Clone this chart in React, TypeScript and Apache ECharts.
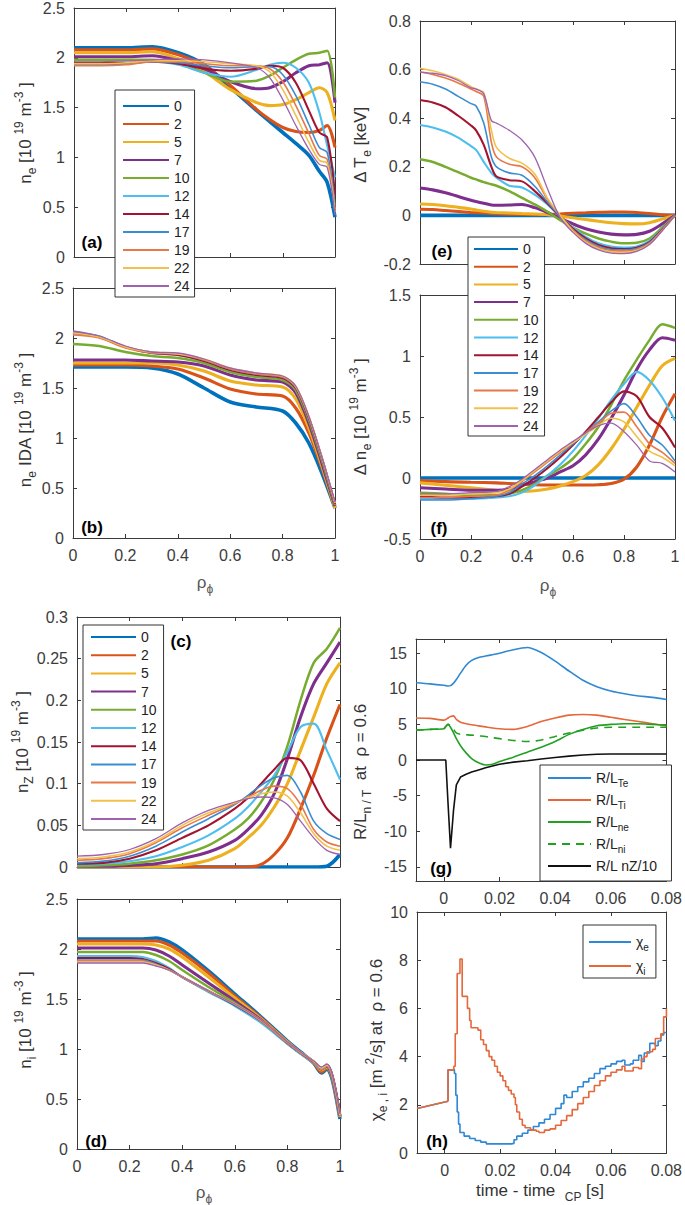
import React, { useEffect, useRef } from "react";
import * as echarts from "echarts";

// ---------- shots (legend) ----------
const SHOTS = ["0", "2", "5", "7", "10", "12", "14", "17", "19", "22", "24"];

// ---------- (a) n_e ----------
const RHO_A = [0, 0.1, 0.2, 0.3, 0.4, 0.5, 0.6, 0.7, 0.75, 0.8, 0.85, 0.9, 0.94, 0.97, 1.0];
const NE_A = [
  [2.10, 2.10, 2.10, 2.11, 2.05, 1.93, 1.70, 1.47, 1.36, 1.25, 1.14, 1.02, 0.86, 0.75, 0.40],
  [2.08, 2.08, 2.08, 2.09, 2.03, 1.92, 1.72, 1.48, 1.38, 1.30, 1.26, 1.25, 1.27, 1.32, 1.10],
  [2.05, 2.05, 2.05, 2.06, 1.99, 1.86, 1.68, 1.55, 1.52, 1.53, 1.58, 1.65, 1.70, 1.65, 1.37],
  [2.01, 2.01, 2.01, 2.02, 1.97, 1.89, 1.76, 1.69, 1.70, 1.76, 1.85, 1.92, 1.93, 1.95, 1.55],
  [1.98, 1.98, 1.98, 1.98, 1.94, 1.85, 1.76, 1.77, 1.82, 1.90, 1.98, 2.04, 2.05, 2.07, 1.60],
  [1.93, 1.93, 1.94, 1.96, 1.93, 1.85, 1.81, 1.88, 1.93, 1.95, 1.90, 1.75, 1.45, 1.12, 0.80],
  [1.95, 1.95, 1.95, 1.96, 1.94, 1.89, 1.87, 1.89, 1.92, 1.90, 1.75, 1.47, 1.25, 1.20, 0.62],
  [1.93, 1.93, 1.94, 1.96, 1.95, 1.92, 1.90, 1.91, 1.91, 1.83, 1.62, 1.33, 1.10, 1.05, 0.52],
  [1.92, 1.92, 1.93, 1.96, 1.96, 1.94, 1.92, 1.92, 1.89, 1.76, 1.52, 1.24, 1.02, 0.98, 0.48],
  [1.94, 1.94, 1.95, 1.97, 1.97, 1.96, 1.94, 1.92, 1.86, 1.68, 1.42, 1.15, 0.97, 0.94, 0.45],
  [1.96, 1.96, 1.97, 1.98, 1.99, 1.98, 1.95, 1.90, 1.80, 1.58, 1.32, 1.08, 0.93, 0.90, 0.42],
];

// ---------- (b) n_e IDA ----------
const RHO_B = [0, 0.1, 0.2, 0.3, 0.4, 0.5, 0.6, 0.7, 0.8, 0.85, 0.9, 0.95, 1.0];
const NE_IDA = [
  [1.71, 1.71, 1.71, 1.70, 1.64, 1.50, 1.36, 1.31, 1.27, 1.15, 0.95, 0.65, 0.30],
  [1.73, 1.73, 1.73, 1.72, 1.69, 1.60, 1.49, 1.44, 1.42, 1.30, 1.05, 0.70, 0.30],
  [1.75, 1.75, 1.75, 1.75, 1.73, 1.67, 1.57, 1.53, 1.51, 1.39, 1.10, 0.72, 0.30],
  [1.78, 1.78, 1.78, 1.77, 1.76, 1.72, 1.63, 1.58, 1.56, 1.45, 1.15, 0.75, 0.32],
  [1.94, 1.92, 1.86, 1.82, 1.80, 1.75, 1.66, 1.61, 1.58, 1.48, 1.18, 0.78, 0.33],
  [2.05, 2.01, 1.91, 1.85, 1.83, 1.77, 1.68, 1.63, 1.60, 1.50, 1.20, 0.80, 0.34],
  [2.05, 2.01, 1.91, 1.85, 1.83, 1.77, 1.68, 1.63, 1.60, 1.50, 1.20, 0.80, 0.34],
  [2.06, 2.02, 1.91, 1.86, 1.84, 1.78, 1.69, 1.64, 1.61, 1.51, 1.21, 0.80, 0.35],
  [2.03, 2.00, 1.90, 1.85, 1.84, 1.78, 1.69, 1.64, 1.61, 1.51, 1.21, 0.80, 0.35],
  [2.05, 2.01, 1.91, 1.86, 1.84, 1.79, 1.70, 1.65, 1.62, 1.52, 1.22, 0.81, 0.35],
  [2.07, 2.02, 1.92, 1.86, 1.85, 1.79, 1.70, 1.65, 1.62, 1.52, 1.22, 0.81, 0.36],
];

// ---------- (c) n_Z ----------
const RHO_C = [0, 0.1, 0.2, 0.3, 0.4, 0.5, 0.6, 0.65, 0.7, 0.75, 0.8, 0.85, 0.9, 0.95, 1.0];
const NZ = [
  [0, 0, 0, 0, 0, 0, 0, 0, 0, 0, 0, 0, 0, 0.001, 0.015],
  [0, 0, 0, 0, 0, 0, 0, 0, 0.003, 0.015, 0.035, 0.07, 0.11, 0.155, 0.195],
  [0, 0, 0, 0, 0.002, 0.008, 0.022, 0.035, 0.05, 0.072, 0.1, 0.14, 0.18, 0.22, 0.245],
  [0.001, 0.001, 0.002, 0.004, 0.01, 0.018, 0.032, 0.045, 0.062, 0.088, 0.13, 0.18, 0.22, 0.245, 0.27],
  [0.001, 0.002, 0.004, 0.008, 0.015, 0.026, 0.045, 0.058, 0.078, 0.105, 0.145, 0.2, 0.245, 0.262, 0.287],
  [0.003, 0.004, 0.007, 0.013, 0.024, 0.038, 0.058, 0.072, 0.09, 0.11, 0.138, 0.168, 0.172, 0.14, 0.105],
  [0.004, 0.005, 0.01, 0.02, 0.035, 0.05, 0.07, 0.083, 0.1, 0.117, 0.131, 0.128, 0.1, 0.07, 0.055],
  [0.005, 0.007, 0.013, 0.025, 0.042, 0.058, 0.075, 0.086, 0.098, 0.107, 0.11, 0.09, 0.055, 0.04, 0.033],
  [0.008, 0.01, 0.016, 0.029, 0.047, 0.062, 0.076, 0.084, 0.092, 0.097, 0.094, 0.075, 0.045, 0.03, 0.025],
  [0.01, 0.012, 0.018, 0.031, 0.05, 0.065, 0.077, 0.083, 0.088, 0.09, 0.085, 0.065, 0.04, 0.025, 0.02],
  [0.013, 0.015, 0.021, 0.034, 0.053, 0.068, 0.078, 0.082, 0.084, 0.083, 0.075, 0.055, 0.035, 0.02, 0.015],
];

// ---------- (d) n_i ----------
const RHO_D = [0, 0.1, 0.2, 0.25, 0.3, 0.35, 0.4, 0.5, 0.6, 0.7, 0.8, 0.85, 0.9, 0.93, 0.95, 0.97, 1.0];
const NI = [
  [2.10, 2.10, 2.10, 2.10, 2.11, 2.07, 1.99, 1.78, 1.55, 1.32, 1.08, 0.97, 0.86, 0.76, 0.80, 0.70, 0.30],
  [2.08, 2.08, 2.08, 2.08, 2.08, 2.04, 1.96, 1.76, 1.53, 1.31, 1.07, 0.96, 0.86, 0.77, 0.81, 0.72, 0.32],
  [2.05, 2.05, 2.05, 2.05, 2.04, 2.00, 1.92, 1.72, 1.51, 1.30, 1.07, 0.96, 0.87, 0.79, 0.82, 0.72, 0.32],
  [2.01, 2.01, 2.01, 2.01, 1.99, 1.93, 1.84, 1.66, 1.48, 1.29, 1.06, 0.96, 0.87, 0.80, 0.83, 0.73, 0.33],
  [1.97, 1.97, 1.97, 1.97, 1.94, 1.88, 1.79, 1.62, 1.46, 1.28, 1.06, 0.96, 0.87, 0.81, 0.84, 0.74, 0.34],
  [1.93, 1.93, 1.93, 1.92, 1.88, 1.81, 1.72, 1.57, 1.43, 1.26, 1.05, 0.95, 0.86, 0.80, 0.83, 0.73, 0.33],
  [1.91, 1.91, 1.91, 1.90, 1.86, 1.80, 1.72, 1.58, 1.44, 1.28, 1.06, 0.96, 0.87, 0.81, 0.84, 0.74, 0.34],
  [1.89, 1.89, 1.89, 1.89, 1.85, 1.79, 1.72, 1.58, 1.44, 1.28, 1.06, 0.96, 0.87, 0.80, 0.83, 0.73, 0.33],
  [1.88, 1.88, 1.88, 1.88, 1.84, 1.79, 1.72, 1.58, 1.45, 1.28, 1.06, 0.96, 0.87, 0.80, 0.83, 0.73, 0.33],
  [1.87, 1.87, 1.87, 1.87, 1.84, 1.79, 1.72, 1.58, 1.45, 1.29, 1.07, 0.97, 0.88, 0.81, 0.84, 0.74, 0.34],
  [1.86, 1.86, 1.86, 1.86, 1.83, 1.79, 1.72, 1.58, 1.45, 1.29, 1.07, 0.97, 0.88, 0.82, 0.85, 0.75, 0.35],
];

// ---------- (e) delta T_e ----------
const RHO_E = [0, 0.05, 0.1, 0.15, 0.2, 0.22, 0.25, 0.28, 0.3, 0.35, 0.4, 0.45, 0.5, 0.55, 0.6, 0.65, 0.7, 0.75, 0.8, 0.85, 0.9, 0.95, 1.0];
const DTE = [
  [0, 0, 0, 0, 0, 0, 0, 0, 0, 0, 0, 0, 0, 0, 0, 0, 0, 0, 0, 0, 0, 0, 0],
  [0.025, 0.024, 0.02, 0.016, 0.012, 0.011, 0.01, 0.008, 0.007, 0.005, 0.004, 0.003, 0.004, 0.006, 0.009, 0.011, 0.013, 0.014, 0.014, 0.012, 0.008, 0.003, 0],
  [0.047, 0.045, 0.04, 0.033, 0.026, 0.022, 0.017, 0.013, 0.012, 0.01, 0.008, 0.006, 0.003, -0.003, -0.01, -0.017, -0.024, -0.03, -0.034, -0.035, -0.03, -0.015, 0],
  [0.113, 0.105, 0.093, 0.078, 0.062, 0.057, 0.05, 0.043, 0.042, 0.043, 0.045, 0.032, 0.012, -0.012, -0.035, -0.055, -0.068, -0.077, -0.08, -0.078, -0.065, -0.035, 0],
  [0.231, 0.22, 0.2, 0.178, 0.155, 0.148, 0.137, 0.128, 0.122, 0.1, 0.072, 0.045, 0.015, -0.02, -0.05, -0.075, -0.095, -0.108, -0.115, -0.113, -0.095, -0.05, 0],
  [0.372, 0.362, 0.345, 0.32, 0.285, 0.27, 0.22, 0.175, 0.155, 0.122, 0.115, 0.085, 0.045, -0.005, -0.05, -0.088, -0.115, -0.128, -0.132, -0.128, -0.105, -0.055, 0],
  [0.475, 0.465, 0.445, 0.41, 0.37, 0.35, 0.29, 0.2, 0.16, 0.145, 0.14, 0.1, 0.05, -0.005, -0.055, -0.095, -0.122, -0.135, -0.138, -0.133, -0.11, -0.058, 0],
  [0.55, 0.54, 0.52, 0.49, 0.46, 0.45, 0.38, 0.24, 0.2, 0.175, 0.165, 0.12, 0.055, -0.005, -0.06, -0.1, -0.127, -0.14, -0.142, -0.136, -0.112, -0.06, 0],
  [0.59, 0.58, 0.565, 0.545, 0.52, 0.51, 0.49, 0.3, 0.24, 0.21, 0.2, 0.155, 0.065, 0.0, -0.06, -0.105, -0.132, -0.145, -0.147, -0.14, -0.115, -0.06, 0],
  [0.605, 0.595, 0.58, 0.56, 0.53, 0.52, 0.505, 0.35, 0.28, 0.235, 0.215, 0.17, 0.07, 0.0, -0.065, -0.11, -0.137, -0.15, -0.152, -0.145, -0.118, -0.062, 0],
  [0.59, 0.585, 0.575, 0.555, 0.525, 0.52, 0.5, 0.39, 0.38, 0.35, 0.31, 0.24, 0.11, -0.01, -0.07, -0.115, -0.142, -0.155, -0.157, -0.148, -0.12, -0.063, 0],
];

// ---------- (f) delta n_e ----------
const RHO_F = [0, 0.1, 0.2, 0.3, 0.35, 0.4, 0.45, 0.5, 0.55, 0.6, 0.65, 0.7, 0.75, 0.8, 0.85, 0.9, 0.95, 1.0];
const DNE = [
  [0, 0, 0, 0, 0, 0, 0, 0, 0, 0, 0, 0, 0, 0, 0, 0, 0, 0],
  [-0.02, -0.03, -0.035, -0.04, -0.045, -0.05, -0.055, -0.057, -0.057, -0.057, -0.057, -0.055, -0.045, -0.01, 0.09, 0.27, 0.50, 0.69],
  [-0.04, -0.06, -0.08, -0.1, -0.11, -0.11, -0.105, -0.09, -0.065, -0.03, 0.02, 0.11, 0.24, 0.40, 0.58, 0.76, 0.92, 0.98],
  [-0.08, -0.09, -0.1, -0.1, -0.09, -0.06, -0.03, 0.0, 0.05, 0.10, 0.19, 0.32, 0.49, 0.68, 0.89, 1.05, 1.15, 1.13],
  [-0.12, -0.13, -0.14, -0.14, -0.13, -0.1, -0.05, 0.02, 0.08, 0.16, 0.28, 0.42, 0.6, 0.8, 0.97, 1.13, 1.26, 1.23],
  [-0.17, -0.17, -0.17, -0.16, -0.15, -0.12, -0.06, 0.02, 0.11, 0.22, 0.35, 0.49, 0.64, 0.77, 0.87, 0.80, 0.66, 0.47],
  [-0.15, -0.16, -0.16, -0.15, -0.13, -0.07, 0.0, 0.08, 0.17, 0.27, 0.38, 0.5, 0.62, 0.71, 0.67, 0.50, 0.41, 0.25],
  [-0.18, -0.18, -0.17, -0.15, -0.12, -0.05, 0.02, 0.1, 0.19, 0.28, 0.37, 0.46, 0.55, 0.61, 0.50, 0.35, 0.27, 0.14],
  [-0.16, -0.16, -0.15, -0.14, -0.1, -0.03, 0.05, 0.13, 0.21, 0.29, 0.37, 0.45, 0.53, 0.54, 0.42, 0.28, 0.21, 0.12],
  [-0.14, -0.14, -0.13, -0.12, -0.09, -0.02, 0.06, 0.14, 0.22, 0.29, 0.36, 0.43, 0.49, 0.46, 0.34, 0.22, 0.17, 0.1],
  [-0.13, -0.13, -0.12, -0.11, -0.07, -0.01, 0.07, 0.15, 0.23, 0.3, 0.37, 0.43, 0.45, 0.38, 0.27, 0.14, 0.12, 0.05],
];

// ---------- (g) gradients at rho = 0.6 ----------
const T_G = [-0.01, -0.005, 0, 0.0007, 0.0015, 0.0024, 0.0035, 0.0045, 0.006, 0.008, 0.01, 0.0125, 0.015, 0.0175, 0.02, 0.025, 0.03, 0.035, 0.04, 0.045, 0.05, 0.055, 0.06, 0.065, 0.07, 0.075, 0.08];
const RL_TE = [10.85, 10.7, 10.5, 10.45, 10.4, 10.45, 10.8, 11.3, 12.2, 13.3, 14.0, 14.4, 14.6, 14.8, 15.0, 15.5, 15.8, 15.1, 13.9, 12.5, 11.2, 10.3, 9.7, 9.3, 9.0, 8.8, 8.5];
const RL_TI = [5.9, 5.85, 5.6, 5.7, 5.9, 6.1, 6.2, 5.7, 5.3, 5.1, 4.95, 4.8, 4.65, 4.5, 4.4, 4.3, 4.7, 5.4, 5.9, 6.3, 6.4, 6.3, 6.0, 5.7, 5.4, 5.1, 4.8];
const RL_NE = [4.2, 4.3, 4.4, 4.7, 5.0, 4.6, 3.8, 3.0, 2.0, 1.0, 0.2, -0.4, -0.7, -0.6, -0.2, 0.4, 1.1, 1.8, 2.6, 3.6, 4.3, 4.8, 5.0, 5.1, 5.1, 5.0, 4.9];
const RL_NI = [4.2, 4.3, 4.4, 4.7, 5.0, 4.8, 4.3, 3.8, 3.6, 3.55, 3.5, 3.4, 3.3, 3.15, 3.0, 2.75, 2.6, 2.8, 3.3, 3.8, 4.2, 4.5, 4.6, 4.6, 4.6, 4.6, 4.6];
const RL_NZ = [0, 0, 0, 0, -6, -12.4, -7, -3.5, -2.4, -2.0, -1.7, -1.4, -1.1, -0.85, -0.6, -0.3, -0.1, 0.15, 0.35, 0.55, 0.7, 0.8, 0.85, 0.85, 0.85, 0.85, 0.85];

// ---------- (h) transport coefficients ----------
const T_PRE = [-0.01, 0.0012];
const CHI_PRE = [1.85, 2.15];
const CHI_E_T = [0.0012, 0.0012, 0.0035, 0.004, 0.0045, 0.005, 0.0055, 0.007, 0.009, 0.011, 0.013, 0.015, 0.024, 0.025, 0.026, 0.028, 0.03, 0.032, 0.034, 0.036, 0.038, 0.04, 0.042, 0.043, 0.044, 0.046, 0.048, 0.05, 0.052, 0.054, 0.056, 0.058, 0.06, 0.062, 0.064, 0.065, 0.067, 0.068, 0.07, 0.071, 0.072, 0.074, 0.076, 0.077, 0.078, 0.079, 0.08];
const CHI_E_V = [2.15, 3.45, 3.3, 2.4, 1.7, 1.2, 0.85, 0.7, 0.6, 0.52, 0.45, 0.38, 0.4, 0.55, 0.7, 0.82, 0.95, 1.1, 1.25, 1.4, 1.6, 1.85, 2.05, 2.4, 2.3, 2.55, 2.75, 2.95, 3.1, 3.3, 3.5, 3.6, 3.7, 3.8, 3.85, 3.65, 3.7, 3.85, 4.05, 3.8, 4.15, 4.55, 4.45, 4.65, 4.9, 5.0, 5.0];
const CHI_I_T = [0.0012, 0.0012, 0.0033, 0.0038, 0.0045, 0.0055, 0.0063, 0.0082, 0.009, 0.0095, 0.012, 0.013, 0.014, 0.015, 0.016, 0.017, 0.018, 0.019, 0.02, 0.021, 0.022, 0.023, 0.024, 0.025, 0.0255, 0.026, 0.027, 0.028, 0.029, 0.031, 0.033, 0.034, 0.036, 0.038, 0.04, 0.042, 0.044, 0.046, 0.048, 0.05, 0.052, 0.054, 0.056, 0.058, 0.06, 0.062, 0.064, 0.065, 0.067, 0.068, 0.07, 0.071, 0.072, 0.073, 0.075, 0.076, 0.078, 0.079, 0.08];
const CHI_I_V = [2.15, 3.45, 3.6, 4.95, 7.45, 8.05, 6.5, 6.0, 5.5, 5.2, 5.1, 4.7, 4.5, 4.25, 4.0, 3.85, 3.6, 3.35, 3.2, 3.0, 2.75, 2.6, 2.45, 2.3, 2.0, 1.7, 1.4, 1.15, 1.05, 0.95, 0.9, 0.85, 0.95, 1.0, 1.15, 1.35, 1.55, 1.8, 2.05, 2.3, 2.55, 2.8, 3.0, 3.2, 3.35, 3.45, 3.6, 3.4, 3.4, 3.55, 3.5, 3.9, 4.0, 4.2, 4.3, 4.75, 4.95, 5.65, 6.0];

const TIME_TICKS = [0, 0.02, 0.04, 0.06, 0.08];
const RL_TICKS = [-15, -10, -5, 0, 5, 10, 15];

// ---------- styles ----------
const FONT = '"Liberation Sans", Arial, Helvetica, sans-serif';
const AXIS_COLOR = "#3a3a3a";
const LABEL_COLOR = "#3c3c3c";
const SHOT_COLORS = ["#0072BD", "#D95319", "#EDB120", "#7E2F8E", "#77AC30", "#4DBEEE", "#A2142F", "#3A8DD2", "#E6784A", "#F2C14C", "#A062B0"];
const SHOT_WIDTHS = [3.6, 3.1, 3.1, 3.1, 2.5, 2.1, 2.1, 1.6, 1.6, 1.6, 1.3];

type Panel = {
  left: number; top: number; width: number; height: number;
  xmin: number; xmax: number; xint?: number; xcustom?: number[]; xlabels: boolean;
  ymin: number; ymax: number; yint?: number; ycustom?: number[];
};

const PANELS: Panel[] = [
  { left: 74, top: 7, width: 261, height: 250, xmin: 0, xmax: 1, xint: 0.2, xlabels: false, ymin: 0, ymax: 2.5, yint: 0.5 },
  { left: 73, top: 288, width: 262, height: 250, xmin: 0, xmax: 1, xint: 0.2, xlabels: true, ymin: 0, ymax: 2.5, yint: 0.5 },
  { left: 77, top: 617, width: 263, height: 250, xmin: 0, xmax: 1, xint: 0.2, xlabels: false, ymin: 0, ymax: 0.3, yint: 0.05 },
  { left: 77, top: 899, width: 263, height: 250, xmin: 0, xmax: 1, xint: 0.2, xlabels: true, ymin: 0, ymax: 2.5, yint: 0.5 },
  { left: 420, top: 21, width: 255, height: 243, xmin: 0, xmax: 1, xint: 0.2, xlabels: false, ymin: -0.2, ymax: 0.8, yint: 0.2 },
  { left: 420, top: 295, width: 255, height: 244, xmin: 0, xmax: 1, xint: 0.2, xlabels: true, ymin: -0.5, ymax: 1.5, yint: 0.5 },
  { left: 416, top: 639, width: 255, height: 242, xmin: -0.01, xmax: 0.08, xcustom: TIME_TICKS, xlabels: true, ymin: -17, ymax: 17, ycustom: RL_TICKS },
  { left: 417, top: 912, width: 255, height: 241, xmin: -0.01, xmax: 0.08, xcustom: TIME_TICKS, xlabels: true, ymin: 0, ymax: 10, yint: 2 },
];

const fmt = (v: number) => String(Math.round(v * 10000) / 10000);

function buildAxes() {
  const xAxis: any[] = [];
  const yAxis: any[] = [];
  PANELS.forEach((p, i) => {
    const line = { show: true, onZero: false, lineStyle: { color: AXIS_COLOR, width: 1 } };
    const lbl = { color: LABEL_COLOR, fontSize: 16, fontFamily: FONT, formatter: fmt };
    const xTick: any = { show: true, inside: true, length: 4, lineStyle: { color: AXIS_COLOR } };
    const yTick: any = { show: true, inside: true, length: 4, lineStyle: { color: AXIS_COLOR } };
    if (p.xcustom) xTick.customValues = p.xcustom;
    if (p.ycustom) yTick.customValues = p.ycustom;
    const xBase: any = { gridIndex: i, type: "value", min: p.xmin, max: p.xmax, splitLine: { show: false }, axisLine: line, axisTick: xTick };
    const yBase: any = { gridIndex: i, type: "value", min: p.ymin, max: p.ymax, splitLine: { show: false }, axisLine: line, axisTick: yTick };
    if (p.xint != null) xBase.interval = p.xint;
    if (p.yint != null) yBase.interval = p.yint;
    const xLbl: any = { ...lbl, show: p.xlabels, margin: 9 };
    if (p.xcustom) xLbl.customValues = p.xcustom;
    const yLbl: any = { ...lbl, show: true, margin: 9 };
    if (p.ycustom) yLbl.customValues = p.ycustom;
    xAxis.push({ ...xBase, position: "bottom", axisLabel: xLbl });
    xAxis.push({ ...xBase, position: "top", axisLabel: { show: false } });
    yAxis.push({ ...yBase, position: "left", axisLabel: yLbl });
    yAxis.push({ ...yBase, position: "right", axisLabel: { show: false } });
  });
  return { xAxis, yAxis };
}

function profileSeries(panel: number, xs: number[], rows: number[][]) {
  return rows.map((ys, k) => ({
    type: "line",
    name: SHOTS[k],
    xAxisIndex: panel * 2,
    yAxisIndex: panel * 2,
    data: xs.map((x, j) => [x, ys[j]]),
    symbol: "none",
    smooth: 0.3,
    lineStyle: { color: SHOT_COLORS[k], width: SHOT_WIDTHS[k] },
    itemStyle: { color: SHOT_COLORS[k] },
    z: 2,
  }));
}

function tSeries(panel: number, name: string, ts: number[], vs: number[], color: string, extra: any = {}) {
  return {
    type: "line",
    name,
    xAxisIndex: panel * 2,
    yAxisIndex: panel * 2,
    data: ts.map((t, j) => [t, vs[j]]),
    symbol: "none",
    lineStyle: { color, width: 1.6, ...(extra.lineStyle || {}) },
    itemStyle: { color },
    smooth: extra.smooth ?? false,
    step: extra.step,
    z: 2,
  };
}

function richText(x: number, y: number, text: string, rotate: boolean, size = 17, color = "#333") {
  return {
    type: "text",
    x,
    y,
    rotation: rotate ? Math.PI / 2 : 0,
    z: 50,
    style: {
      text,
      align: "center",
      verticalAlign: "middle",
      textAlign: "center",
      textVerticalAlign: "middle",
      fill: color,
      fontSize: size,
      fontFamily: FONT,
      rich: {
        b: { fontSize: size, fontFamily: FONT, fill: color, color, lineHeight: size + 8 },
        sub: { fontSize: size - 5, fontFamily: FONT, fill: color, color, verticalAlign: "bottom", lineHeight: size - 3 },
        sup: { fontSize: size - 5, fontFamily: FONT, fill: color, color, verticalAlign: "top", lineHeight: size - 3 },
      },
    },
  };
}

function panelLabel(x: number, y: number, text: string) {
  return {
    type: "text",
    x,
    y,
    z: 60,
    style: { text, align: "center", verticalAlign: "middle", textAlign: "center", textVerticalAlign: "middle", fill: "#000", fontSize: 17, fontWeight: "bold", fontFamily: FONT },
  };
}

const LEGEND_BOX = {
  show: true,
  orient: "vertical",
  selectedMode: false,
  borderColor: "#333",
  borderWidth: 1,
  borderRadius: 0,
  backgroundColor: "#fff",
  itemStyle: { opacity: 0 },
  z: 10,
};

function shotLegend(left: number, top: number, itemWidth: number, gap: number, padding: number[]) {
  return {
    ...LEGEND_BOX,
    left,
    top,
    data: SHOTS,
    itemWidth,
    itemHeight: 12,
    itemGap: gap,
    padding,
    textStyle: { fontSize: 14, lineHeight: 14, color: "#222", fontFamily: FONT },
  };
}

const G_LABELS: Record<string, string> = {
  "R/L Te": "R/L{s|Te}",
  "R/L Ti": "R/L{s|Ti}",
  "R/L ne": "R/L{s|ne}",
  "R/L ni": "R/L{s|ni}",
  "R/L nZ/10": "R/L nZ/10",
  "χe": "χ{s|e}",
  "χi": "χ{s|i}",
};

function buildOption() {
  const { xAxis, yAxis } = buildAxes();
  const series: any[] = [
    ...profileSeries(0, RHO_A, NE_A),
    ...profileSeries(1, RHO_B, NE_IDA),
    ...profileSeries(2, RHO_C, NZ),
    ...profileSeries(3, RHO_D, NI),
    ...profileSeries(4, RHO_E, DTE),
    ...profileSeries(5, RHO_F, DNE),
    tSeries(6, "R/L Te", T_G, RL_TE, "#2E88D4", { smooth: 0.25 }),
    tSeries(6, "R/L Ti", T_G, RL_TI, "#E4683A", { smooth: 0.25 }),
    tSeries(6, "R/L ne", T_G, RL_NE, "#22A022", { smooth: 0.25 }),
    tSeries(6, "R/L ni", T_G, RL_NI, "#22A022", { smooth: 0.25, lineStyle: { type: [8, 6] } }),
    tSeries(6, "R/L nZ/10", T_G, RL_NZ, "#111111"),
    tSeries(7, "χe", T_PRE, CHI_PRE, "#2E88D4"),
    tSeries(7, "χe", CHI_E_T, CHI_E_V, "#2E88D4", { step: "end" }),
    tSeries(7, "χi", T_PRE, CHI_PRE, "#E4683A"),
    tSeries(7, "χi", CHI_I_T, CHI_I_V, "#E4683A", { step: "end" }),
  ];

  const richLegendText = {
    fontSize: 14,
    lineHeight: 20,
    color: "#222",
    fontFamily: FONT,
    rich: { s: { fontSize: 10, lineHeight: 12, verticalAlign: "bottom", color: "#222", fontFamily: FONT } },
  };

  const legend: any[] = [
    shotLegend(115, 90, 46, 4, [9, 5, 4, 7]),
    shotLegend(468, 237, 44, 3.7, [5, 6, 3, 5]),
    shotLegend(83, 625, 45, 4.2, [5, 7, 4, 7]),
    {
      ...LEGEND_BOX, left: 540, top: 765,
      data: ["R/L Te", "R/L Ti", "R/L ne", "R/L ni", "R/L nZ/10"],
      itemWidth: 43, itemHeight: 14, itemGap: 2, padding: [3, 14, 5, 7],
      formatter: (n: string) => G_LABELS[n] || n, textStyle: richLegendText,
    },
    {
      ...LEGEND_BOX, left: 583, top: 925,
      data: ["χe", "χi"],
      itemWidth: 42, itemHeight: 14, itemGap: 4, padding: [7, 7, 2, 5],
      formatter: (n: string) => G_LABELS[n] || n, textStyle: richLegendText,
    },
  ];

  const graphic: any[] = [
    richText(25, 133, "{b|n}{sub|e}{b| [10 }{sup|19}{b| m}{sup|-3}{b| ]}", true),
    richText(25, 420, "{b|n}{sub|e}{b| IDA [10 }{sup|19}{b| m}{sup|-3}{b| ]}", true),
    richText(22, 742, "{b|n}{sub|Z}{b| [10 }{sup|19}{b| m}{sup|-3}{b| ]}", true),
    richText(25, 1020, "{b|n}{sub|i}{b| [10 }{sup|19}{b| m}{sup|-3}{b| ]}", true),
    richText(360, 145, "{b|Δ T}{sub|e}{b| [keV]}", true),
    richText(360, 417, "{b|Δ n}{sub|e}{b| [10 }{sup|19}{b| m}{sup|-3}{b| ]}", true),
    richText(360, 772, "{b|R/L}{sub|n / T}{b|  at  ρ = 0.6}", true),
    richText(376, 1040, "{b|χ}{sub|e , i}{b| [m }{sup|2}{b|/s] at  ρ = 0.6}", true),
    richText(205, 582, "{b|ρ}{sub|ϕ}", false, 17, "#555"),
    richText(548, 585, "{b|ρ}{sub|ϕ}", false, 17, "#555"),
    richText(204, 1192, "{b|ρ}{sub|ϕ}", false, 17, "#555"),
    richText(540, 1190, "{b|time - time  }{sub|CP}{b| [s]}", false, 17, "#333"),
    panelLabel(92, 242, "(a)"),
    panelLabel(442, 251, "(e)"),
    panelLabel(92, 527, "(b)"),
    panelLabel(439, 528, "(f)"),
    panelLabel(181, 641, "(c)"),
    panelLabel(441, 868, "(g)"),
    panelLabel(96, 1141, "(d)"),
    panelLabel(437, 1141, "(h)"),
  ];

  return {
    animation: false,
    backgroundColor: "#ffffff",
    grid: PANELS.map((p) => ({ left: p.left, top: p.top, width: p.width, height: p.height, containLabel: false })),
    xAxis,
    yAxis,
    legend,
    series,
    graphic,
  };
}

export default function App() {
  const ref = useRef<HTMLDivElement>(null);
  useEffect(() => {
    const chart = echarts.init(ref.current as HTMLDivElement, null, { renderer: "svg" });
    chart.setOption(buildOption() as any);
    return () => chart.dispose();
  }, []);
  return (
    <div
      ref={ref}
      style={{ position: "absolute", left: 0, top: 0, width: 685, height: 1205, background: "#fff" }}
    />
  );
}
